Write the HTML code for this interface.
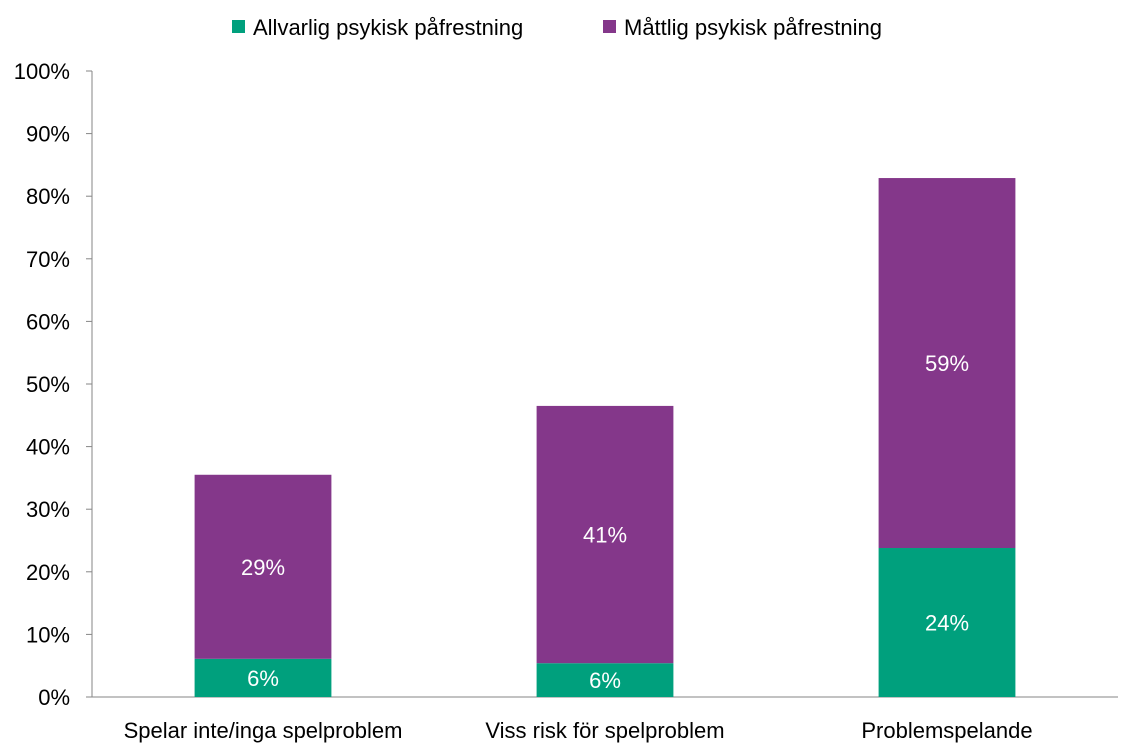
<!DOCTYPE html>
<html><head><meta charset="utf-8">
<style>
html,body{margin:0;padding:0;background:#fff;}
svg{display:block;font-family:"Liberation Sans",Arial,sans-serif;}
</style></head>
<body>
<svg id="chart" width="1135" height="756">
  <g id="legend">
    <g>
      <rect x="232" y="20" width="13" height="13" fill="#00A07D"></rect>
      <text x="253" y="35" font-size="22" fill="#000">Allvarlig psykisk påfrestning</text>
    </g>
    <g>
      <rect x="603" y="20" width="13" height="13" fill="#84378A"></rect>
      <text x="624" y="35" font-size="22" fill="#000">Måttlig psykisk påfrestning</text>
    </g>
  </g>
  <g id="axes"></g>
  <g id="bars"></g>
</svg>
<script>
const categories = ["Spelar inte/inga spelproblem", "Viss risk för spelproblem", "Problemspelande"];
const severe = [6.1, 5.4, 23.8];
const moderate = [29.4, 41.1, 59.1];
const severeLabels = ["6%", "6%", "24%"];
const moderateLabels = ["29%", "41%", "59%"];
const yTicks = [0, 10, 20, 30, 40, 50, 60, 70, 80, 90, 100];

const NS = "http://www.w3.org/2000/svg";
const x0 = 92, x1 = 1118, yBase = 697, yTop = 71;
const y = v => yBase - (v / 100) * (yBase - yTop);
const band = (x1 - x0) / categories.length;
const xc = i => x0 + band * (i + 0.5);
const barW = band * 0.4;

function mk(tag, attrs, parent) {
  const e = document.createElementNS(NS, tag);
  for (const k in attrs) e.setAttribute(k, attrs[k]);
  parent.appendChild(e);
  return e;
}
const axes = document.getElementById("axes");
const bars = document.getElementById("bars");

const yAxis = mk("line", {x1: x0, x2: x0, y1: yTop, y2: yBase, stroke: "#868686", "stroke-width": 1}, axes);


const xAxis = mk("line", {x1: x0, x2: x1, y1: yBase, y2: yBase, stroke: "#868686", "stroke-width": 1}, axes);



yTicks.forEach(t => {
  const tk = mk("line", {x1: x0 - 6, x2: x0, y1: y(t), y2: y(t), stroke: "#868686"}, axes);
  
  
  const lb = mk("text", {x: 70, y: y(t) + 8, "font-size": 22, "text-anchor": "end", fill: "#000"}, axes);
  lb.textContent = t + "%";
  
  
});

categories.forEach((c, i) => {
  const cx = xc(i);
  const r1 = mk("rect", {x: cx - barW / 2, y: y(severe[i]), width: barW, height: yBase - y(severe[i]), fill: "#00A07D"}, bars);
  
  
  const tot = severe[i] + moderate[i];
  const r2 = mk("rect", {x: cx - barW / 2, y: y(tot), width: barW, height: y(severe[i]) - y(tot), fill: "#84378A"}, bars);
  
  
  const l1 = mk("text", {x: cx, y: y(severe[i] / 2) + 8, "font-size": 22, "text-anchor": "middle", fill: "#fff"}, bars);
  l1.textContent = severeLabels[i];
  
  
  const l2 = mk("text", {x: cx, y: y(severe[i] + moderate[i] / 2) + 8, "font-size": 22, "text-anchor": "middle", fill: "#fff"}, bars);
  l2.textContent = moderateLabels[i];
  
  
  const cl = mk("text", {x: cx, y: 738, "font-size": 22, "text-anchor": "middle", fill: "#000"}, axes);
  cl.textContent = c;
  
  
});
</script>
</body></html>
